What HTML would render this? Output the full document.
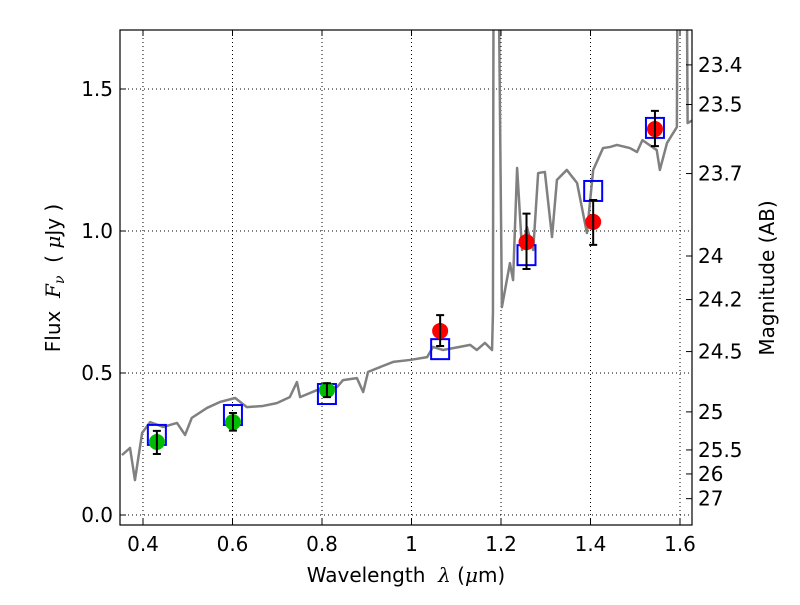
<!DOCTYPE html>
<html><head><meta charset="utf-8"><style>
body{margin:0;background:#fff}
svg text{font-family:"DejaVu Sans","Liberation Sans",sans-serif;font-size:20px;fill:#000}
</style></head><body>
<svg id="chart" width="800" height="600" xmlns="http://www.w3.org/2000/svg">
<rect x="0" y="0" width="800" height="600" fill="#fff"/>
<defs><clipPath id="pc"><rect x="120" y="30" width="572" height="495"/></clipPath></defs>
<g id="grid"></g>
<g id="spec" clip-path="url(#pc)"></g>
<g id="marks" clip-path="url(#pc)"></g>
<rect x="120" y="30" width="572" height="495" fill="none" stroke="#000" stroke-width="1.2"/>
<g id="axes"></g>
<text x="406" y="582" text-anchor="middle">Wavelength&#160; <tspan font-family="DejaVu Serif" font-style="italic">λ</tspan> (<tspan font-family="DejaVu Serif" font-style="italic">μ</tspan>m)</text>
<text transform="translate(60,278) rotate(-90)" text-anchor="middle">Flux&#160; <tspan font-family="DejaVu Serif" font-style="italic">F</tspan><tspan font-family="DejaVu Serif" font-style="italic" font-size="14" dy="4">ν</tspan><tspan dy="-4">&#160; (&#160;</tspan><tspan font-family="DejaVu Serif" font-style="italic">μ</tspan>Jy )</text>
<text transform="translate(774,278) rotate(-90)" text-anchor="middle">Magnitude (AB)</text>
</svg>
<script>
const specLam=[0.353,0.371,0.382,0.398,0.416,0.445,0.476,0.494,0.509,0.543,0.572,0.606,0.632,0.668,0.699,0.728,0.744,0.751,0.789,0.834,0.847,0.878,0.892,0.903,0.930,0.959,0.997,1.035,1.048,1.070,1.108,1.131,1.146,1.164,1.180,1.182,1.184,1.191,1.202,1.220,1.227,1.236,1.247,1.258,1.272,1.283,1.298,1.314,1.325,1.347,1.370,1.392,1.406,1.428,1.444,1.459,1.488,1.504,1.516,1.548,1.555,1.571,1.593,1.596,1.613,1.617,1.629];
const specFlux=[0.211,0.236,0.123,0.289,0.327,0.310,0.324,0.282,0.342,0.377,0.398,0.412,0.380,0.384,0.394,0.415,0.468,0.415,0.440,0.451,0.475,0.482,0.433,0.504,0.521,0.539,0.546,0.556,0.592,0.581,0.592,0.599,0.581,0.606,0.581,0.711,2.5,2.5,0.732,0.887,0.827,1.222,0.933,1.014,0.933,1.204,1.208,0.979,1.180,1.215,1.169,0.993,1.215,1.292,1.296,1.303,1.292,1.278,1.320,1.285,1.215,1.310,1.366,2.5,2.5,1.380,1.391];
const obsLam=[0.431,0.601,0.811,1.064,1.257,1.406,1.544];
const obsFlux=[0.257,0.327,0.440,0.648,0.961,1.032,1.359];
const obsErrHi=[0.039,0.032,0.024,0.056,0.10,0.077,0.064];
const obsErrLo=[0.042,0.030,0.025,0.053,0.095,0.081,0.060];
const obsBand=["opt","opt","opt","nir","nir","nir","nir"];
const modelFlux=[0.282,0.352,0.426,0.584,0.915,1.141,1.363];
const xTicks=[0.4,0.6,0.8,1.0,1.2,1.4,1.6];
const xTickLabels=["0.4","0.6","0.8","1","1.2","1.4","1.6"];
const yTicks=[0.0,0.5,1.0,1.5];
const yTickLabels=["0.0","0.5","1.0","1.5"];
const magTicks=[23.4,23.5,23.7,24,24.2,24.5,25,25.5,26,27];
const magTickLabels=["23.4","23.5","23.7","24","24.2","24.5","25","25.5","26","27"];
const NS="http://www.w3.org/2000/svg";
const X=l=>143+(l-0.4)*447.5;
const Y=f=>515-f*284;
function mk(t,a,p){const e=document.createElementNS(NS,t);for(const k in a)e.setAttribute(k,a[k]);p.appendChild(e);return e;}
const grid=document.getElementById('grid'),axes=document.getElementById('axes'),spec=document.getElementById('spec'),marks=document.getElementById('marks');
xTicks.forEach((v,i)=>{const x=X(v);
 const g=mk('line',{x1:x,x2:x,y1:30,y2:525,stroke:'#000','stroke-dasharray':'1,3','stroke-width':1},grid);
 
 mk('line',{x1:x,x2:x,y1:525,y2:519,stroke:'#000'},axes);mk('line',{x1:x,x2:x,y1:30,y2:36,stroke:'#000'},axes);
 const t=mk('text',{x:x,y:551,'text-anchor':'middle'},axes);t.textContent=xTickLabels[i];
 });
yTicks.forEach((v,i)=>{const y=Y(v);
 const g=mk('line',{x1:120,x2:692,y1:y,y2:y,stroke:'#000','stroke-dasharray':'1,3','stroke-width':1},grid);
 
 mk('line',{x1:120,x2:126,y1:y,y2:y,stroke:'#000'},axes);
 const t=mk('text',{x:113,y:y+7,'text-anchor':'end'},axes);t.textContent=yTickLabels[i];
 });
magTicks.forEach((m,i)=>{const y=Y(Math.pow(10,(23.9-m)/2.5));
 mk('line',{x1:692,x2:686,y1:y,y2:y,stroke:'#000'},axes);
 const t=mk('text',{x:698,y:y+7},axes);t.textContent=magTickLabels[i];
 });
const pl=mk('polyline',{points:specLam.map((l,i)=>X(l)+','+Y(specFlux[i])).join(' '),fill:'none',stroke:'#808080','stroke-width':2.5,'stroke-linejoin':'round'},spec);

obsLam.forEach((l,i)=>{const x=X(l);
 const b=mk('rect',{x:x-9,y:Y(modelFlux[i])-10,width:18,height:20,fill:'none',stroke:'#0000ff','stroke-width':2},marks);
 
 const c=mk('circle',{cx:x,cy:Y(obsFlux[i]),r:8,fill:obsBand[i]==='opt'?'#00bb00':'#ff0000'},marks);
 
 const y1=Y(obsFlux[i]+obsErrHi[i]),y2=Y(obsFlux[i]-obsErrLo[i]);
 const e=mk('path',{d:`M${x},${y1}V${y2}M${x-4},${y1}H${x+4}M${x-4},${y2}H${x+4}`,stroke:'#000','stroke-width':2,fill:'none'},marks);
 });
</script>
</body></html>
